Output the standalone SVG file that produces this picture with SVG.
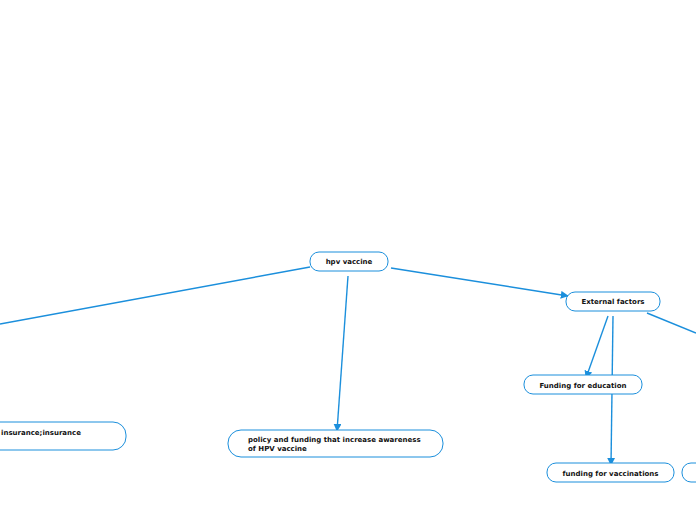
<svg xmlns="http://www.w3.org/2000/svg" width="696" height="520" viewBox="0 0 696 520">
<defs>
<marker id="arr" viewBox="0 0 10 10" refX="9" refY="5" markerWidth="8" markerHeight="8" markerUnits="userSpaceOnUse" orient="auto">
<path d="M0,0 L10,5 L0,10 z" fill="#1b8fdc"/>
</marker>
<style>
.n{fill:#fff;stroke:#1b8fdc;stroke-width:1}
.t{font-family:"DejaVu Sans",sans-serif;font-weight:bold;font-size:7px;fill:#111}
.c{stroke:#1b8fdc;stroke-width:1.4;fill:none}
</style>
</defs>
<rect width="696" height="520" fill="#fff"/>
<g id="connectors">
<line class="c" x1="310" y1="267" x2="0" y2="324"/>
<line class="c" x1="348" y1="276" x2="337" y2="431" marker-end="url(#arr)"/>
<line class="c" x1="391" y1="268" x2="568" y2="296" marker-end="url(#arr)"/>
<line class="c" x1="608" y1="316" x2="586" y2="378" marker-end="url(#arr)"/>
<line class="c" x1="613" y1="316" x2="611" y2="465" marker-end="url(#arr)"/>
<line class="c" x1="647" y1="313" x2="696" y2="333"/>
</g>
<g id="hpv-vaccine">
<rect class="n" x="310" y="252" width="78" height="19" rx="9"/>
<text class="t" x="349" y="264" text-anchor="middle">hpv vaccine</text>
</g>
<g id="external-factors">
<rect class="n" x="566" y="292" width="94" height="19" rx="9"/>
<text class="t" x="613" y="304" text-anchor="middle">External factors</text>
</g>
<g id="funding-education">
<rect class="n" x="524" y="375" width="118" height="19" rx="9"/>
<text class="t" x="583" y="388" text-anchor="middle">Funding for education</text>
</g>
<g id="funding-vaccinations">
<rect class="n" x="547" y="463" width="127" height="19" rx="9"/>
<text class="t" x="610.5" y="476" text-anchor="middle">funding for vaccinations</text>
</g>
<g id="partial-right">
<rect class="n" x="682" y="463" width="40" height="19" rx="9"/>
</g>
<g id="insurance">
<rect class="n" x="-40" y="422" width="166" height="28" rx="13"/>
<text class="t" x="1" y="435">insurance;insurance</text>
</g>
<g id="policy">
<rect class="n" x="228" y="430" width="215" height="27" rx="13"/>
<text class="t" x="248" y="442">policy and funding that increase awareness</text>
<text class="t" x="248" y="451">of HPV vaccine</text>
</g>
</svg>
